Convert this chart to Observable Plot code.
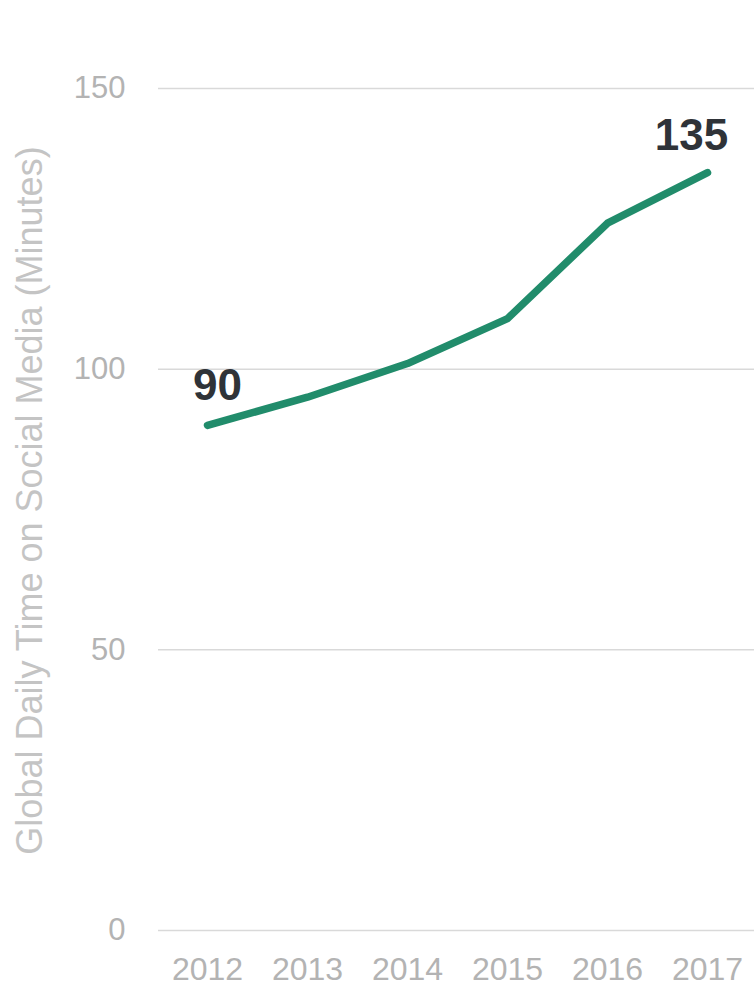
<!DOCTYPE html>
<html>
<head>
<meta charset="utf-8">
<script src="https://cdn.jsdelivr.net/npm/d3@7"></script>
<script src="https://cdn.jsdelivr.net/npm/@observablehq/plot@0.6"></script>
<style>
  html, body { margin: 0; padding: 0; background: #fff; }
  #chart svg { display: block; }
</style>
</head>
<body>
<div id="chart"></div>
<script>
const years = [2012, 2013, 2014, 2015, 2016, 2017];
const minutes = [90, 95, 101, 109, 126, 135];
const yTicks = [0, 50, 100, 150];
const yTitle = "Global Daily Time on Social Media (Minutes)";

const data = years.map((y, i) => ({year: y, value: minutes[i]}));
const first = [data[0]];
const last = [data[data.length - 1]];

const font = "'Liberation Sans', Arial, Helvetica, sans-serif";

const chart = Plot.plot({
  width: 754,
  height: 986,
  marginTop: 88,
  marginBottom: 56,
  marginLeft: 158,
  marginRight: 0,
  style: {fontFamily: font, background: "#fff", overflow: "visible"},
  x: {domain: [2011.51, 2017.47]},
  y: {domain: [0, 150]},
  marks: [
    Plot.gridY(yTicks, {stroke: "#d9d9d9", strokeOpacity: 1, strokeWidth: 1.5}),
    Plot.axisY(yTicks, {tickSize: 0, tickPadding: 33, fontSize: 31, fill: "#b3b3b3", label: null}),
    Plot.axisX(years, {tickSize: 0, tickPadding: 27, fontSize: 32, fill: "#b3b3b3", label: null, tickFormat: d => String(d)}),
    Plot.line(data, {x: "year", y: "value", stroke: "#218c6b", strokeWidth: 7.5, strokeLinecap: "round", strokeLinejoin: "round"}),
    Plot.text(first, {x: "year", y: "value", text: d => String(d.value),
      dx: 10, dy: -39, fontSize: 44, fontWeight: "bold", fill: "#2f3338"}),
    Plot.text(last, {x: "year", y: "value", text: d => String(d.value),
      dx: -16, dy: -37, fontSize: 44, fontWeight: "bold", fill: "#2f3338"}),
    Plot.text([yTitle], {frameAnchor: "left", textAnchor: "middle", rotate: -90,
      dx: -128, dy: -9, fontSize: 36, fill: "#c4c4c4"})
  ]
});
document.getElementById("chart").append(chart);
</script>
</body>
</html>
